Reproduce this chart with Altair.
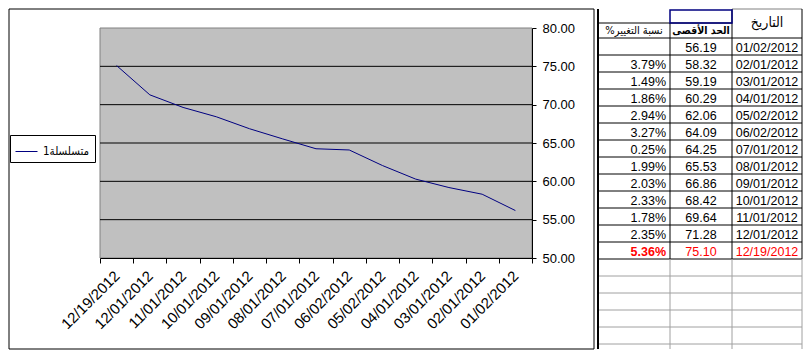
import altair as alt
import pandas as pd

# ---------------- data ----------------
dates = ["01/02/2012", "02/01/2012", "03/01/2012", "04/01/2012", "05/02/2012",
         "06/02/2012", "07/01/2012", "08/01/2012", "09/01/2012", "10/01/2012",
         "11/01/2012", "12/01/2012", "12/19/2012"]
max_values = [56.19, 58.32, 59.19, 60.29, 62.06, 64.09, 64.25, 65.53, 66.86,
              68.42, 69.64, 71.28, 75.10]
change_pct = [None, 3.79, 1.49, 1.86, 2.94, 3.27, 0.25, 1.99, 2.03, 2.33,
              1.78, 2.35, 5.36]
series_name = "\u202bمتسلسلة1\u202c"
y_ticks = [50, 55, 60, 65, 70, 75, 80]
grid_values = [55, 60, 65, 70, 75]
hdr_date = "التاريخ"
hdr_max = "الحد الأقصى"
hdr_change = "\u200fنسبة التغيير%\u200f"

# ---------------- layout / style ----------------
FONT = "Liberation Sans"
AFONT_C = "DejaVu Sans Condensed"
PW, PH = 432, 230
L_OFF, T_OFF, R_OFF, B_OFF = 91, 19, 494, 321
NAVY = "#000080"
RED = "#FF0000"

x_order = dates[::-1]
chart_df = pd.DataFrame({"date": x_order, "value": max_values[::-1],
                         "series": [series_name] * len(dates)})
one = pd.DataFrame({"k": [0]})

yscale = alt.Scale(domain=[50, 80], nice=False, zero=False)
Y = alt.Y("value:Q", scale=yscale,
          axis=alt.Axis(orient="right", values=y_ticks, format=".2f", title=None,
                        grid=False, domainColor="black", tickColor="black",
                        tickSize=4, labelFontSize=13, labelPadding=6,
                        labelFont=FONT, labelColor="black", zindex=1))
X = alt.X("date:N", sort=x_order,
          scale=alt.Scale(type="band", paddingInner=0, paddingOuter=0),
          axis=alt.Axis(title=None, labelAngle=315, labelAlign="right",
                        labelBaseline="middle", labelPadding=10, tickBand="extent",
                        tickSize=5, tickColor="black", domainColor="black",
                        labelFontSize=15, labelFont=FONT, labelColor="black",
                        grid=False, zindex=1))

border = alt.Chart(one).mark_rect(fill="white", stroke="black", strokeWidth=1).encode(
    x=alt.value(-L_OFF), x2=alt.value(R_OFF), y=alt.value(-T_OFF), y2=alt.value(B_OFF))
plotbg = alt.Chart(one).mark_rect(fill="#C0C0C0", stroke="#808080", strokeWidth=1).encode(
    x=alt.value(0), x2=alt.value(PW), y=alt.value(0), y2=alt.value(PH))
grid = alt.Chart(pd.DataFrame({"value": grid_values})).mark_rule(
    color="black", strokeWidth=1).encode(y=Y)
line = alt.Chart(chart_df).mark_line(strokeWidth=1).encode(
    x=X, y=Y,
    color=alt.Color("series:N", scale=alt.Scale(range=[NAVY]),
                    legend=alt.Legend(title=None, orient="none", legendX=-90, legendY=107,
                                      strokeColor="black", fillColor="white", padding=5,
                                      cornerRadius=0, symbolType="stroke", symbolSize=484,
                                      symbolStrokeWidth=1, labelFontSize=11.5, labelFont=AFONT_C,
                                      labelColor="black", labelOffset=5)))

main = alt.layer(border, plotbg, grid, line).properties(width=PW, height=PH)

# ---------------- table ----------------
TW = 204
TH_TOTAL = T_OFF + B_OFF          # full table height, top aligned with chart border
cols = [0, 72, 134, 204]
H1, H2, RH = 14, 29, 17
n = len(dates)
data_bottom = H2 + RH * n

xs = alt.Scale(domain=[0, TW], nice=False, zero=False)
# view covers [T_OFF, TH_TOTAL]; rows above T_OFF are drawn above the view origin
ys = alt.Scale(domain=[T_OFF, TH_TOTAL], nice=False, zero=False, reverse=True)

hl = [{"y": H1, "x1": cols[0], "x2": cols[2], "c": "black"},
      {"y": 0, "x1": cols[2], "x2": cols[3], "c": "#808080"}]
for k in range(n + 1):
    hl.append({"y": H2 + RH * k, "x1": cols[0], "x2": cols[3], "c": "black"})
yy = data_bottom + RH
while yy < TH_TOTAL:
    hl.append({"y": yy, "x1": cols[0], "x2": cols[3], "c": "#A0A0A0"})
    yy += RH
hl_df = pd.DataFrame(hl)

vl = [{"x": cols[0], "y1": 0, "y2": TH_TOTAL, "c": "black", "w": 2},
      {"x": cols[1], "y1": H1, "y2": data_bottom, "c": "black", "w": 1},
      {"x": cols[2], "y1": 0, "y2": data_bottom, "c": "black", "w": 1},
      {"x": cols[3], "y1": 0, "y2": data_bottom, "c": "black", "w": 1}]
for cx in cols[1:]:
    vl.append({"x": cx, "y1": data_bottom, "y2": TH_TOTAL, "c": "#A0A0A0", "w": 1})
vl_df = pd.DataFrame(vl)

hrules = alt.Chart(hl_df).mark_rule().encode(
    y=alt.Y("y:Q", scale=ys, axis=None), x=alt.X("x1:Q", scale=xs, axis=None), x2="x2:Q",
    color=alt.Color("c:N", scale=None))
vrules = alt.Chart(vl_df).mark_rule().encode(
    x=alt.X("x:Q", scale=xs, axis=None), y=alt.Y("y1:Q", scale=ys, axis=None), y2="y2:Q",
    color=alt.Color("c:N", scale=None), strokeWidth=alt.StrokeWidth("w:Q", scale=None))
sel_box = alt.Chart(pd.DataFrame({"x1": [cols[1]], "x2": [cols[2]], "y1": [1], "y2": [H1]})).mark_rect(
    fillOpacity=0, stroke=NAVY, strokeWidth=1.5).encode(
    x=alt.X("x1:Q", scale=xs, axis=None), x2="x2:Q",
    y=alt.Y("y1:Q", scale=ys, axis=None), y2="y2:Q")

cells_c = []
cells_r = []
for i in range(n):
    yc = H2 + RH * i + RH / 2
    col = RED if i == n - 1 else "black"
    cells_c.append({"x": (cols[1] + cols[2]) / 2, "y": yc, "t": f"{max_values[i]:.2f}", "c": col})
    cells_c.append({"x": (cols[2] + cols[3]) / 2, "y": yc, "t": dates[i], "c": col})
    if change_pct[i] is not None:
        cells_r.append({"x": cols[1] - 4, "y": yc, "t": f"{change_pct[i]:.2f}%", "c": col,
                        "b": i == n - 1})
cc_df = pd.DataFrame(cells_c)
cr_df = pd.DataFrame(cells_r)

text_c = alt.Chart(cc_df).mark_text(align="center", baseline="middle", font=FONT,
                                    fontSize=12.5, dy=1).encode(
    x=alt.X("x:Q", scale=xs, axis=None), y=alt.Y("y:Q", scale=ys, axis=None),
    text="t:N", color=alt.Color("c:N", scale=None))
text_r = alt.Chart(cr_df[~cr_df["b"]]).mark_text(align="right", baseline="middle", font=FONT,
                                                 fontSize=12.5, dy=1).encode(
    x=alt.X("x:Q", scale=xs, axis=None), y=alt.Y("y:Q", scale=ys, axis=None),
    text="t:N", color=alt.Color("c:N", scale=None))
text_rb = alt.Chart(cr_df[cr_df["b"]]).mark_text(align="right", baseline="middle", font=FONT,
                                                 fontSize=12.5, fontWeight="bold", dy=1).encode(
    x=alt.X("x:Q", scale=xs, axis=None), y=alt.Y("y:Q", scale=ys, axis=None),
    text="t:N", color=alt.Color("c:N", scale=None))

hdr_df = pd.DataFrame([
    {"x": (cols[2] + cols[3]) / 2, "y": H2 / 2 - 1, "t": hdr_date, "s": 14},
    {"x": (cols[0] + cols[1]) / 2, "y": (H1 + H2) / 2, "t": hdr_change, "s": 11},
])
hdr = alt.Chart(hdr_df).mark_text(align="center", baseline="middle", font=AFONT_C,
                                  color="black").encode(
    x=alt.X("x:Q", scale=xs, axis=None), y=alt.Y("y:Q", scale=ys, axis=None),
    text="t:N", size=alt.Size("s:Q", scale=None))
hdr_b = alt.Chart(pd.DataFrame([{"x": (cols[1] + cols[2]) / 2, "y": (H1 + H2) / 2, "t": hdr_max}])).mark_text(
    align="center", baseline="middle", font=AFONT_C, fontSize=10.5, fontWeight="bold",
    color="black").encode(
    x=alt.X("x:Q", scale=xs, axis=None), y=alt.Y("y:Q", scale=ys, axis=None), text="t:N")

table = alt.layer(hrules, vrules, sel_box, text_c, text_r, text_rb, hdr, hdr_b).properties(
    width=TW, height=TH_TOTAL - T_OFF)

chart = alt.hconcat(main, table, spacing=2).properties(padding=0, background="white") \
    .configure_view(strokeWidth=0)

chart.save("out.html", embed_options={"renderer": "svg", "actions": False})
